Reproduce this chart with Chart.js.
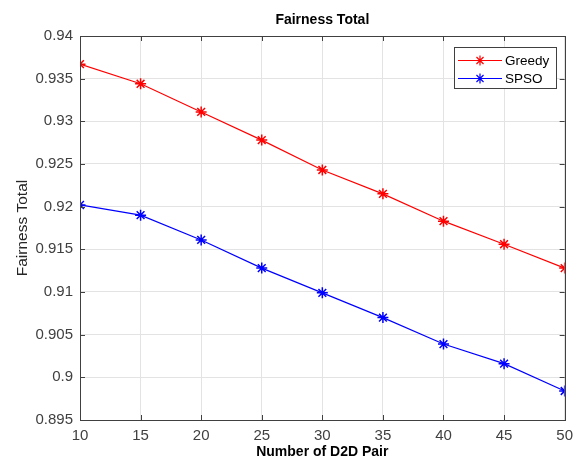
<!DOCTYPE html>
<html>
<head>
<meta charset="utf-8">
<script src="https://cdn.jsdelivr.net/npm/chart.js@4/dist/chart.umd.min.js"></script>
<style>
  html, body { margin: 0; padding: 0; background: #fff; }
  #wrap { width: 580px; height: 461px; }
</style>
</head>
<body>
<div id="wrap"><canvas id="c" width="580" height="461"></canvas></div>
<script>
// data
const d2dPairs = [10, 15, 20, 25, 30, 35, 40, 45, 50];
const greedy = [0.9367, 0.9344, 0.9311, 0.9278, 0.9243, 0.9215, 0.9183, 0.9156, 0.9128];
const spso = [0.9202, 0.9190, 0.9161, 0.9128, 0.9099, 0.9070, 0.9039, 0.9016, 0.8984];
const xTicks = [10, 15, 20, 25, 30, 35, 40, 45, 50];
const yTicks = [0.895, 0.9, 0.905, 0.91, 0.915, 0.92, 0.925, 0.93, 0.935, 0.94];

const FONT = 'Helvetica, Arial, "Liberation Sans", sans-serif';
const AXIS_COLOR = '#404040';

// title, inward ticks, box and legend in MATLAB style
const matlabLook = {
  id: 'matlabLook',
  afterDraw(chart) {
    const ctx = chart.ctx;
    const a = chart.chartArea;
    const xs = chart.scales.x, ys = chart.scales.y;
    ctx.save();

    // box around the axes
    ctx.strokeStyle = AXIS_COLOR;
    ctx.lineWidth = 1;
    ctx.strokeRect(Math.round(a.left) + 0.5, Math.round(a.top) + 0.5,
      Math.round(a.right - a.left), Math.round(a.bottom - a.top));

    // inward ticks
    ctx.beginPath();
    xTicks.forEach(v => {
      const px = Math.round(xs.getPixelForValue(v)) + 0.5;
      ctx.moveTo(px, a.bottom); ctx.lineTo(px, a.bottom - 5);
      ctx.moveTo(px, a.top); ctx.lineTo(px, a.top + 5);
    });
    yTicks.forEach(v => {
      const py = Math.round(ys.getPixelForValue(v)) + 0.5;
      ctx.moveTo(a.left, py); ctx.lineTo(a.left + 5, py);
      ctx.moveTo(a.right, py); ctx.lineTo(a.right - 5, py);
    });
    ctx.stroke();

    // title
    ctx.fillStyle = '#000';
    ctx.font = 'bold 14px ' + FONT;
    ctx.textAlign = 'center';
    ctx.textBaseline = 'middle';
    ctx.fillText('Fairness Total', (a.left + a.right) / 2, 20);

    // legend
    const lx = 454, ly = 47, lw = 102, lh = 41;
    ctx.fillStyle = '#fff';
    ctx.fillRect(lx, ly, lw, lh);
    ctx.strokeStyle = AXIS_COLOR;
    ctx.strokeRect(lx + 0.5, ly + 0.5, lw, lh);
    ctx.font = '13.5px ' + FONT;
    ctx.textAlign = 'left';
    chart.data.datasets.forEach((ds, i) => {
      const y = ly + 13 + i * 18;
      ctx.strokeStyle = ds.borderColor;
      ctx.lineWidth = 1.2;
      ctx.beginPath();
      ctx.moveTo(458, y + 0.5); ctx.lineTo(502, y + 0.5);
      ctx.stroke();
      Chart.helpers.drawPoint(ctx, { pointStyle: 'star', radius: 5, borderWidth: 1.5 }, 480, y + 0.5);
      ctx.fillStyle = '#000';
      ctx.fillText(ds.label, 505, y + 1);
    });
    ctx.restore();
  }
};

new Chart(document.getElementById('c'), {
  type: 'line',
  data: {
    labels: d2dPairs,
    datasets: [
      { label: 'Greedy', data: d2dPairs.map((x, i) => ({ x, y: greedy[i] })),
        borderColor: '#ff0000', pointBorderColor: '#ff0000', backgroundColor: '#ff0000' },
      { label: 'SPSO', data: d2dPairs.map((x, i) => ({ x, y: spso[i] })),
        borderColor: '#0000ff', pointBorderColor: '#0000ff', backgroundColor: '#0000ff' }
    ]
  },
  options: {
    responsive: false,
    animation: false,
    layout: { padding: { left: 0, right: 13, top: 36, bottom: 0 } },
    elements: {
      line: { borderWidth: 1.2, tension: 0 },
      point: { pointStyle: 'star', radius: 5.5, borderWidth: 1.5 }
    },
    plugins: { legend: { display: false }, title: { display: false }, tooltip: { enabled: false } },
    scales: {
      x: {
        type: 'linear', min: 10, max: 50,
        afterBuildTicks: s => { s.ticks = xTicks.map(v => ({ value: v })); },
        afterFit: s => { s.height = 41; },
        grid: { color: '#e3e3e3', drawTicks: false },
        border: { color: AXIS_COLOR },
        ticks: { color: AXIS_COLOR, padding: 7, font: { family: FONT, size: 15 } },
        title: { display: true, text: 'Number of D2D Pair', color: '#000',
          font: { family: FONT, size: 14, weight: 'bold' }, padding: { top: 0, bottom: 0 } }
      },
      y: {
        min: 0.895, max: 0.94,
        afterBuildTicks: s => { s.ticks = yTicks.map(v => ({ value: v })); },
        afterFit: s => { s.width = 80; },
        grid: { color: '#e3e3e3', drawTicks: false },
        border: { color: AXIS_COLOR },
        ticks: { color: AXIS_COLOR, padding: 7, font: { family: FONT, size: 15 },
          callback: v => String(+v.toFixed(3)) },
        title: { display: true, text: 'Fairness Total', color: '#262626',
          font: { family: FONT, size: 15.5 }, padding: { top: 13, bottom: 0 } }
      }
    }
  },
  plugins: [matlabLook]
});
</script>
</body>
</html>
